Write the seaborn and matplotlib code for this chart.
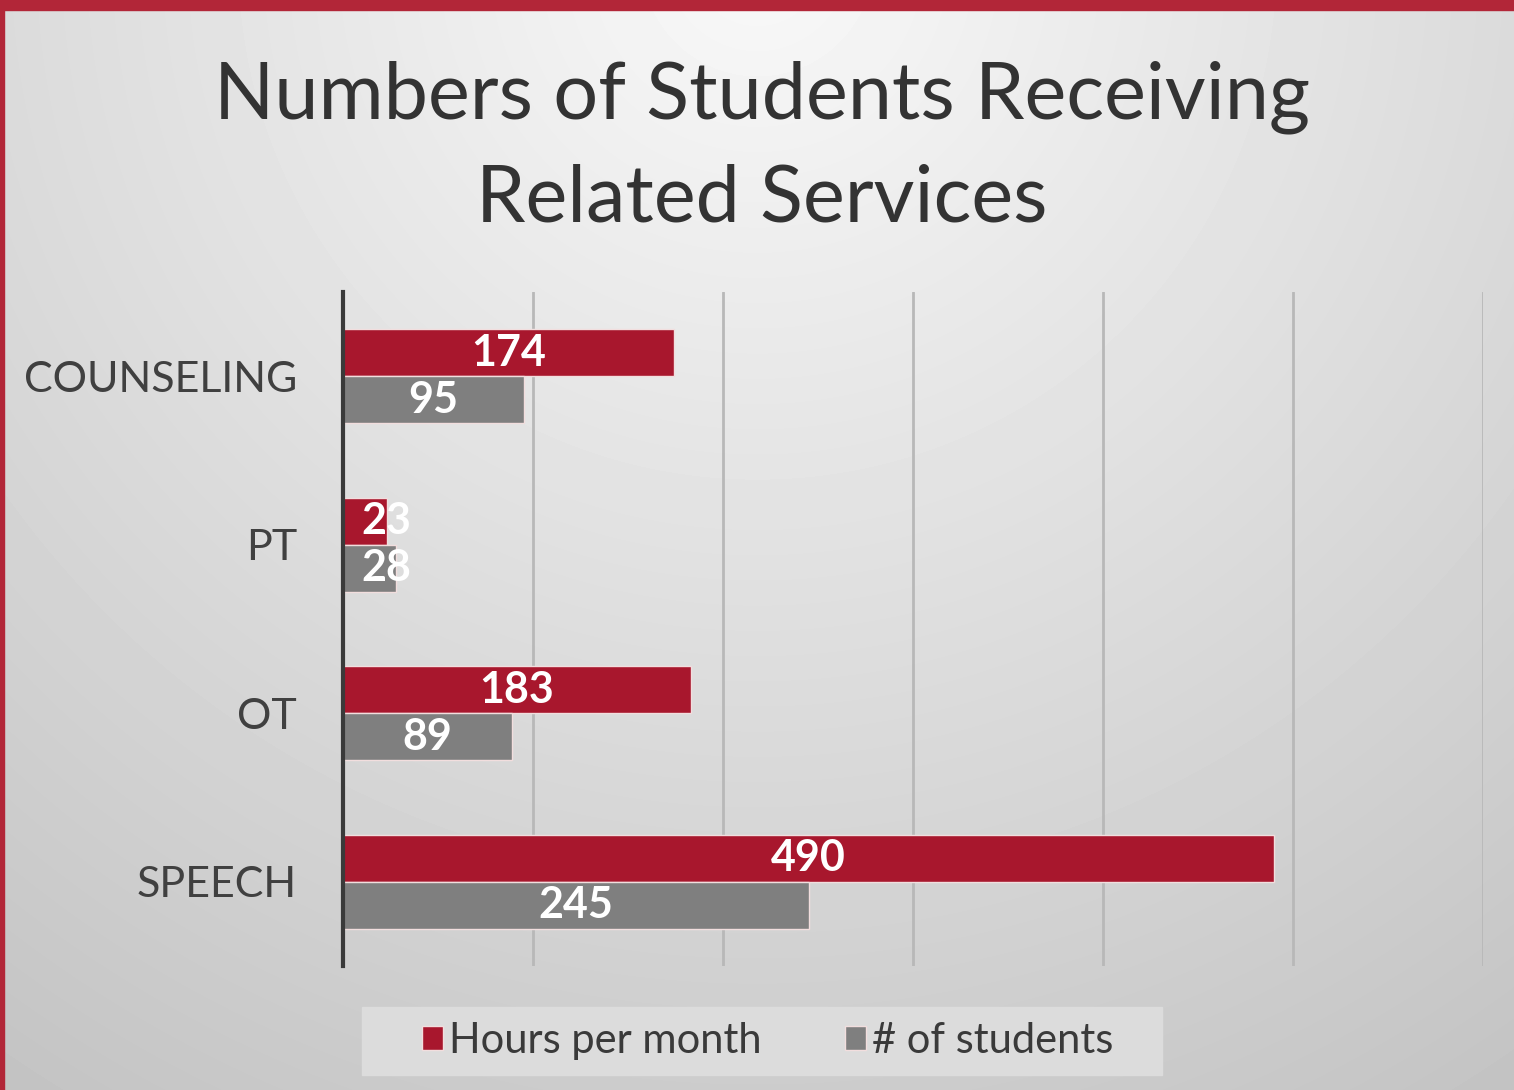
import numpy as np
import pandas as pd
import matplotlib
matplotlib.use("Agg")
import matplotlib.pyplot as plt
import seaborn as sns
from matplotlib.patches import Rectangle

# ---- data ----
categories = ["COUNSELING", "PT", "OT", "SPEECH"]
hours_per_month = [174, 23, 183, 490]
num_students = [95, 28, 89, 245]
series_names = ["Hours per month", "# of students"]
title = "Numbers of Students Receiving\nRelated Services"

RED = "#A8172D"
GRAY = "#7F7F7F"

df = pd.DataFrame({
    "category": categories * 2,
    "series": [series_names[0]] * len(categories) + [series_names[1]] * len(categories),
    "value": hours_per_month + num_students,
})

sns.set_theme(style="white")
plt.rcParams["font.family"] = ["Lato", "DejaVu Sans"]

W, H = 1514, 1090
fig = plt.figure(figsize=(W / 100, H / 100), dpi=100)

# background radial gradient
bg = fig.add_axes([0, 0, 1, 1], zorder=-10)
yy, xx = np.mgrid[0:H, 0:W]
r = np.sqrt((xx - 757) ** 2 + ((yy + 40) * 1.0) ** 2)
val = np.clip(0.975 - 0.000155 * r, 0.76, 0.98)
bg.imshow(val, cmap="gray", vmin=0, vmax=1, aspect="auto", extent=[0, W, H, 0])
bg.set_xlim(0, W)
bg.set_ylim(H, 0)
bg.axis("off")

# red frame (top and left)
fig.patches.append(Rectangle((0, 1 - 10 / H), 1, 10 / H, transform=fig.transFigure,
                             color="#B22638", zorder=5))
fig.patches.append(Rectangle((0, 0), 4 / W, 1, transform=fig.transFigure,
                             color="#B22638", zorder=5))
# legend background box
fig.patches.append(Rectangle((362 / W, 1 - 1075 / H), 800 / W, 68 / H,
                             transform=fig.transFigure, color="#dcdcdc", zorder=1))

ax = fig.add_axes([343 / W, 124 / H, (1483 - 343) / W, (966 - 292) / H])
ax.patch.set_alpha(0)
sns.barplot(data=df, y="category", x="value", hue="series", orient="h",
            palette=[RED, GRAY], saturation=1, width=0.56, dodge=True, ax=ax,
            edgecolor="#f2dede", linewidth=1, legend=True)

ax.set_xlim(0, 600)
ax.set_ylim(3.5, -0.5)
ax.set_xticks(range(0, 601, 100))
ax.set_xticklabels([])
ax.xaxis.grid(True, color="#b8b8b8", linewidth=2)
ax.set_axisbelow(True)
ax.set_xlabel("")
ax.set_ylabel("")
for s in ["top", "right", "bottom"]:
    ax.spines[s].set_visible(False)
ax.spines["left"].set_color("#3a3a3a")
ax.spines["left"].set_linewidth(3)
ax.tick_params(axis="y", length=0, pad=33, labelsize=31, labelcolor="#404040")
ax.tick_params(axis="x", length=0)

# value labels
for cont, vals in zip(ax.containers, [hours_per_month, num_students]):
    for bar, v in zip(cont, vals):
        cy = bar.get_y() + bar.get_height() / 2
        cx = max(v / 2, 23)
        ax.text(cx, cy, f"{v}", ha="center", va="center", color="white",
                fontsize=31, fontweight="bold")

# legend
handles, labels = ax.get_legend_handles_labels()
ax.legend_.remove()
leg = fig.legend(handles, labels, loc="center", bbox_to_anchor=(768 / W, 1 - 1041 / H),
                 ncol=2, frameon=False, fontsize=30, handlelength=0.5, handleheight=0.5,
                 handletextpad=0.15, columnspacing=2.0, borderaxespad=0)
for t in leg.get_texts():
    t.set_color("#3a3a3a")

fig.text(762 / W, 1 - 148 / H, title, ha="center", va="center", fontsize=57,
         color="#333333", linespacing=1.5)

fig.savefig("out.png", dpi=100)
